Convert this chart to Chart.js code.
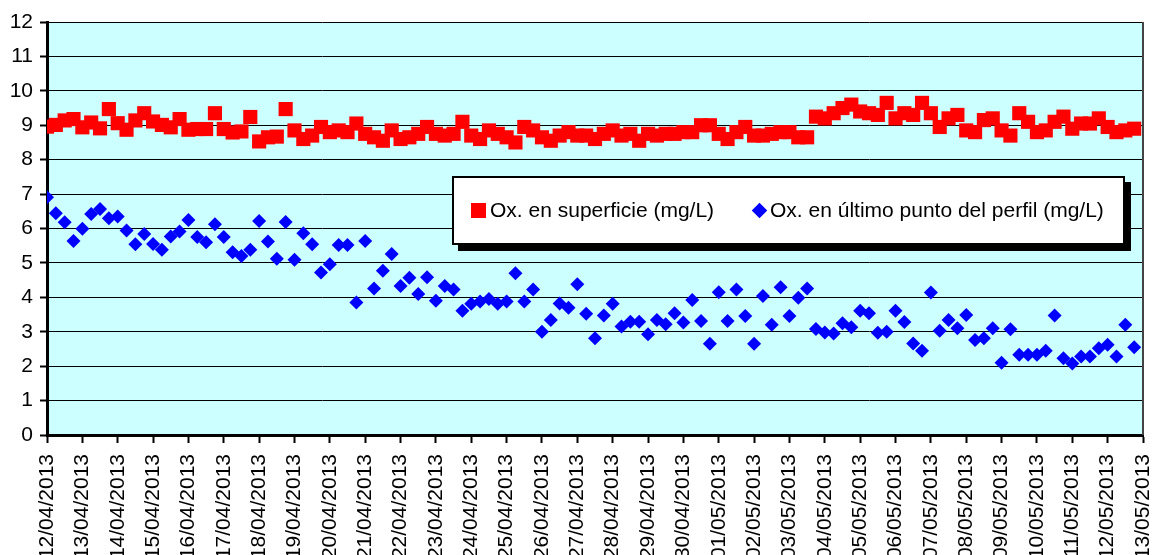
<!DOCTYPE html>
<html>
<head>
<meta charset="utf-8">
<script src="https://cdn.jsdelivr.net/npm/chart.js@4.4.0/dist/chart.umd.min.js"></script>
<style>
  html, body { margin: 0; padding: 0; background: #fff; overflow: hidden; }
  #wrap { position: relative; width: 1153px; height: 555px; }
  #grafico { display: block; }
  #legend {
    position: absolute; left: 452px; top: 176px; width: 669px; height: 65px;
    background: #fff; border: 2px solid #000; box-shadow: 6px 6px 0 #000;
    font-family: "Liberation Sans", Arial, sans-serif; font-size: 21px; color: #000;
  }
  #legend .sq { position: absolute; left: 17px; top: 25px; width: 15px; height: 15px; background: #ff0000; }
  #legend .dia { position: absolute; left: 300px; top: 27px; width: 11px; height: 11px; background: #0000ff; transform: rotate(45deg); }
  #legend .txt { position: absolute; top: 21px; line-height: 22px; white-space: nowrap; }
</style>
</head>
<body>
<div id="wrap">
  <canvas id="grafico" width="1153" height="555"></canvas>
  <div id="legend">
    <span class="sq"></span><span class="txt" id="leg1" style="left:36px"></span>
    <span class="dia"></span><span class="txt" id="leg2" style="left:316px"></span>
  </div>
</div>
<script>
// etichette giornaliere (4 misure al giorno)
const dayLabels = [
  "12/04/2013", "13/04/2013", "14/04/2013", "15/04/2013", "16/04/2013", "17/04/2013", "18/04/2013", "19/04/2013",
  "20/04/2013", "21/04/2013", "22/04/2013", "23/04/2013", "24/04/2013", "25/04/2013", "26/04/2013", "27/04/2013",
  "28/04/2013", "29/04/2013", "30/04/2013", "01/05/2013", "02/05/2013", "03/05/2013", "04/05/2013", "05/05/2013",
  "06/05/2013", "07/05/2013", "08/05/2013", "09/05/2013", "10/05/2013", "11/05/2013", "12/05/2013", "13/05/2013"
];

const seriesNames = ["Ox. en superficie (mg/L)", "Ox. en último punto del perfil (mg/L)"];

const superficie = [
  8.96, 9.01, 9.14, 9.18, 8.94, 9.08, 8.91, 9.47, 9.06, 8.87, 9.14, 9.35, 9.11, 9.01, 8.94, 9.18,
  8.87, 8.89, 8.89, 9.35, 8.89, 8.79, 8.82, 9.24, 8.53, 8.65, 8.67, 9.47, 8.85, 8.60, 8.70, 8.95,
  8.80, 8.85, 8.80, 9.05, 8.75, 8.65, 8.55, 8.85, 8.60, 8.65, 8.75, 8.95, 8.75, 8.70, 8.75, 9.10,
  8.70, 8.60, 8.85, 8.75, 8.65, 8.50, 8.95, 8.85, 8.65, 8.55, 8.70, 8.80, 8.70, 8.70, 8.60, 8.75,
  8.85, 8.70, 8.75, 8.55, 8.75, 8.70, 8.75, 8.75, 8.80, 8.80, 9.00, 9.00, 8.75, 8.60, 8.80, 8.95,
  8.70, 8.70, 8.75, 8.80, 8.80, 8.65, 8.65, 9.25, 9.20, 9.35, 9.50, 9.60, 9.40, 9.35, 9.30, 9.65,
  9.20, 9.35, 9.30, 9.65, 9.35, 8.95, 9.20, 9.30, 8.85, 8.80, 9.15, 9.20, 8.85, 8.70, 9.35, 9.10,
  8.80, 8.85, 9.10, 9.25, 8.90, 9.05, 9.05, 9.20, 8.95, 8.80, 8.85, 8.90
];

const ultimoPunto = [
  6.91, 6.44, 6.18, 5.64, 5.99, 6.42, 6.57, 6.30, 6.35, 5.94, 5.54, 5.84, 5.55, 5.38, 5.77, 5.91,
  6.25, 5.75, 5.60, 6.12, 5.75, 5.31, 5.20, 5.38, 6.22, 5.62, 5.12, 6.19, 5.09, 5.86, 5.54, 4.72,
  4.96, 5.52, 5.52, 3.85, 5.64, 4.26, 4.77, 5.26, 4.33, 4.57, 4.10, 4.58, 3.90, 4.33, 4.23, 3.61,
  3.81, 3.88, 3.95, 3.81, 3.88, 4.70, 3.88, 4.23, 3.00, 3.34, 3.82, 3.70, 4.38, 3.52, 2.81, 3.47,
  3.81, 3.15, 3.29, 3.29, 2.93, 3.34, 3.22, 3.54, 3.27, 3.92, 3.31, 2.65, 4.15, 3.31, 4.23, 3.46,
  2.65, 4.04, 3.20, 4.29, 3.46, 3.99, 4.26, 3.08, 2.98, 2.95, 3.25, 3.13, 3.61, 3.54, 2.97, 3.00,
  3.61, 3.28, 2.66, 2.45, 4.14, 3.03, 3.34, 3.10, 3.49, 2.76, 2.81, 3.10, 2.10, 3.07, 2.33, 2.33,
  2.33, 2.45, 3.47, 2.23, 2.08, 2.28, 2.28, 2.52, 2.62, 2.28, 3.20, 2.55
];

const yTicks = [0, 1, 2, 3, 4, 5, 6, 7, 8, 9, 10, 11, 12];

const perDay = 4;
const font = "'Liberation Sans', Arial, sans-serif";

document.querySelector("#leg1").textContent = seriesNames[0];
document.querySelector("#leg2").textContent = seriesNames[1];

// sfondo azzurro dell'area del grafico + bordo destro
const sfondo = {
  id: "sfondo",
  beforeDraw(chart) {
    let { ctx, chartArea } = chart;
    ctx.save();
    ctx.fillStyle = "#ccffff";
    ctx.fillRect(chartArea.left, chartArea.top, chartArea.right - chartArea.left, chartArea.bottom - chartArea.top);
    ctx.restore();
  },
  afterDraw(chart) {
    let { ctx, chartArea } = chart;
    ctx.save();
    ctx.strokeStyle = "#444";
    ctx.lineWidth = 2;
    ctx.beginPath();
    ctx.moveTo(chartArea.right, chartArea.top);
    ctx.lineTo(chartArea.right, chartArea.bottom);
    ctx.stroke();
    ctx.restore();
  }
};

let ctx = document.getElementById("grafico").getContext("2d");

let myChart = new Chart(ctx, {
  type: "scatter",
  data: {
    datasets: [
      {
        label: seriesNames[0],
        data: superficie.map((v, i) => ({ x: i, y: v })),
        pointStyle: "rect",
        pointRadius: 10,
        backgroundColor: "#ff0000",
        borderColor: "#ff0000",
        borderWidth: 0,
      },
      {
        label: seriesNames[1],
        data: ultimoPunto.map((v, i) => ({ x: i, y: v })),
        pointStyle: "rectRot",
        pointRadius: 7,
        backgroundColor: "#0000ff",
        borderColor: "#0000ff",
        borderWidth: 0,
      },
    ],
  },
  options: {
    responsive: false,
    animation: false,
    layout: { padding: { top: 22, right: 9, left: 0, bottom: 0 } },
    plugins: {
      legend: { display: false },
      tooltip: { enabled: false },
    },
    scales: {
      x: {
        type: "linear",
        min: 0,
        max: (dayLabels.length - 1) * perDay,
        afterFit: (scale) => {
          scale.height = 120;
          scale.paddingLeft = 0;
          scale.paddingRight = 0;
        },
        grid: { drawOnChartArea: false, drawTicks: true, tickLength: 8, tickColor: "#000", tickWidth: 2 },
        border: { color: "#000", width: 3 },
        ticks: {
          stepSize: perDay,
          autoSkip: false,
          maxRotation: 90,
          minRotation: 90,
          padding: 11,
          color: "#000",
          font: { family: font, size: 21 },
          callback: (v) => dayLabels[Math.round(v / perDay)],
        },
      },
      y: {
        min: yTicks[0],
        max: yTicks[yTicks.length - 1],
        afterFit: (scale) => {
          scale.width = 47;
        },
        grid: { color: "#000", lineWidth: 1, tickLength: 7, tickColor: "#000", tickWidth: 2 },
        border: { color: "#000", width: 3 },
        ticks: {
          stepSize: 1,
          padding: 7,
          color: "#000",
          font: { family: font, size: 21 },
        },
      },
    },
  },
  plugins: [sfondo],
});
</script>
</body>
</html>
